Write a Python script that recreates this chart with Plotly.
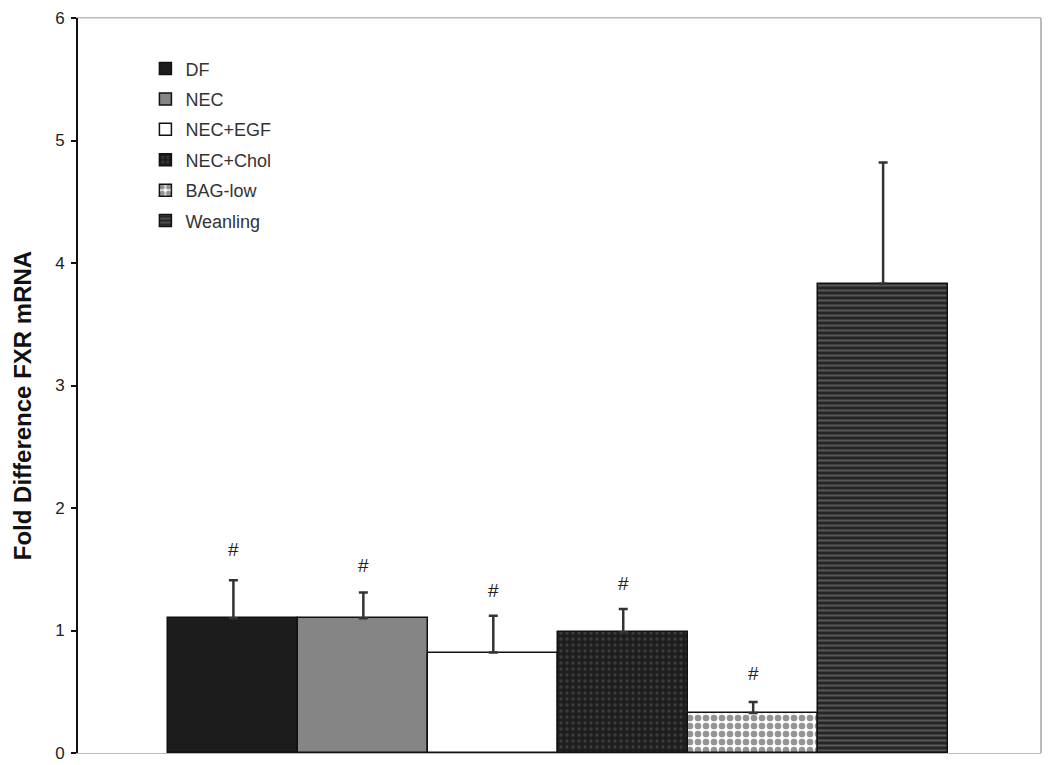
import plotly.graph_objects as go

groups = ["DF", "NEC", "NEC+EGF", "NEC+Chol", "BAG-low", "Weanling"]
values = [1.10, 1.10, 0.82, 0.985, 0.327, 3.83]
err_plus = [0.31, 0.21, 0.30, 0.19, 0.09, 0.99]
sig_marks = ["#", "#", "#", "#", "#", ""]
sig_y = [1.66, 1.53, 1.33, 1.38, 0.65, 0]
y_title = "Fold Difference FXR mRNA"

styles = [
    dict(color="#1c1c1c", pattern=dict(shape="")),
    dict(color="#858585", pattern=dict(shape="")),
    dict(color="#ffffff", pattern=dict(shape="")),
    dict(color="#1e1e1e", pattern=dict(shape=".", fgcolor="#5a5a5a", size=6, solidity=0.25)),
    dict(color="#ffffff", pattern=dict(shape=".", fgcolor="#2a2a2a", size=8, solidity=0.55)),
    dict(color="#262626", pattern=dict(shape="-", fgcolor="#8a8a8a", size=5, solidity=0.4)),
]

fig = go.Figure()
for i, g in enumerate(groups):
    st = styles[i]
    fig.add_trace(go.Bar(
        x=[i], y=[values[i]], name=g, width=1.0, legendgroup=g,
        marker=dict(color=st["color"], pattern=st["pattern"],
                    line=dict(color="#111111", width=1.5)),
        error_y=dict(type="data", symmetric=False, array=[err_plus[i]], arrayminus=[0],
                     color="#333333", thickness=2.5, width=4.5),
    ))

for i, m in enumerate(sig_marks):
    if m:
        fig.add_annotation(x=i, y=sig_y[i], text=m, showarrow=False,
                           font=dict(family="Arial", size=19, color="#222222"))

fig.add_annotation(x=-0.058, y=0.472, xref="paper", yref="paper", text="<b>" + y_title + "</b>",
                   textangle=-90, showarrow=False, xanchor="center", yanchor="middle",
                   font=dict(family="Arial", size=24, color="#111111"))

fig.update_layout(
    width=1042, height=757,
    paper_bgcolor="white", plot_bgcolor="white",
    margin=dict(l=70, r=9, t=10, b=12),
    barmode="overlay", bargap=0,
    font=dict(family="Arial", color="#222222"),
    legend=dict(x=0.070, y=0.956, xanchor="left", yanchor="top",
                font=dict(size=18, color="#333333"),
                traceorder="grouped", tracegroupgap=4,
                bgcolor="rgba(0,0,0,0)", itemwidth=30),
    showlegend=True,
)
fig.update_xaxes(range=[-1.196, 6.215], showticklabels=False, ticks="",
                 showline=True, linecolor="#bbbbbb", linewidth=1, mirror=True,
                 showgrid=False, zeroline=False, automargin=False)
fig.update_yaxes(range=[0, 6], dtick=1, ticks="outside", ticklen=5, tickcolor="#111111",
                 tickwidth=1.5, ticklabelstandoff=3, ticklabeloverflow="allow",
                 showline=True, linecolor="#111111", linewidth=2,
                 showgrid=False, zeroline=False, automargin=False,
                 tickfont=dict(size=17, color="#222222"))

fig.add_shape(type="line", xref="paper", yref="paper", x0=0, x1=1, y0=1, y1=1,
              line=dict(color="#bbbbbb", width=1))
fig.add_shape(type="line", xref="paper", yref="paper", x0=1, x1=1, y0=0, y1=1,
              line=dict(color="#bbbbbb", width=2))

fig.write_html("out.html")
